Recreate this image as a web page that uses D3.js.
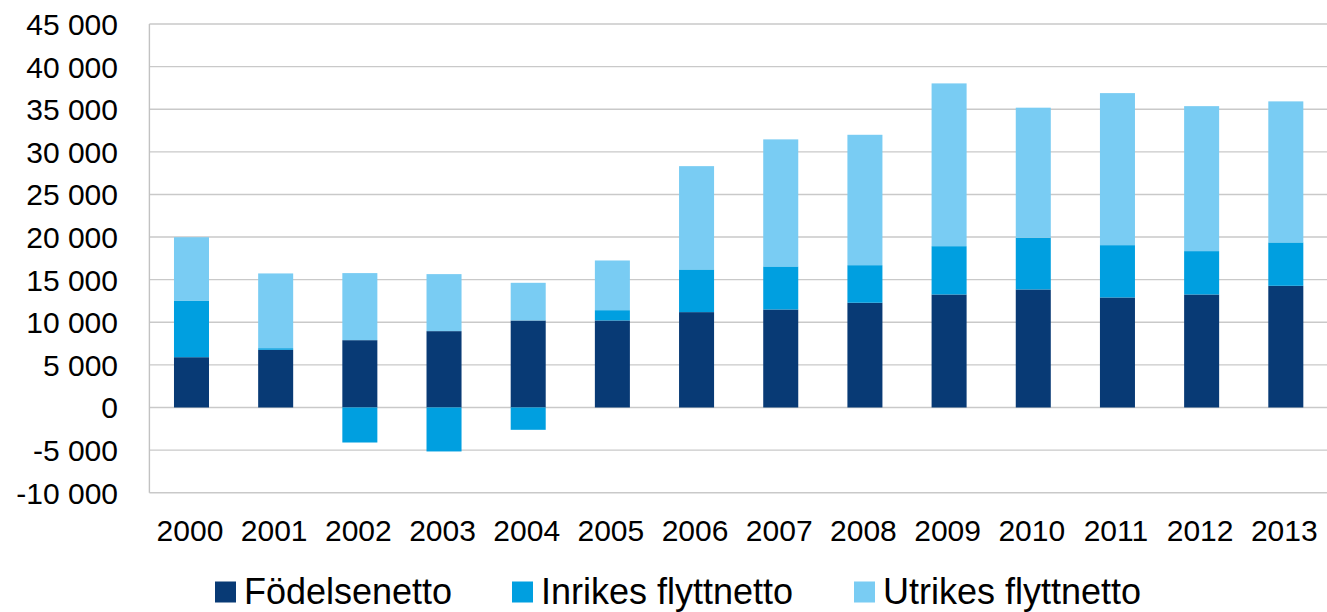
<!DOCTYPE html>
<html>
<head>
<meta charset="utf-8">
<script src="https://cdn.jsdelivr.net/npm/d3@7"></script>
<style>
  html, body { margin: 0; padding: 0; background: #fff; }
  svg { display: block; font-family: "Liberation Sans", Arial, sans-serif; }
</style>
</head>
<body>
<svg id="chart" width="1327" height="612"></svg>
<script>
const years = ["2000","2001","2002","2003","2004","2005","2006","2007","2008","2009","2010","2011","2012","2013"];
const fodelsenetto = [5900, 6770, 7900, 8960, 10210, 10210, 11190, 11500, 12290, 13260, 13850, 12910, 13260, 14280];
const inrikes      = [6650, 190, -4110, -5160, -2620, 1210, 5010, 5050, 4410, 5670, 6070, 6140, 5090, 5090];
const utrikes      = [7430, 8770, 7870, 6690, 4420, 5830, 12120, 14910, 15300, 19100, 15260, 17840, 17010, 16550];
const seriesNames = ["Födelsenetto", "Inrikes flyttnetto", "Utrikes flyttnetto"];
const seriesColors = ["#083A75", "#009FE0", "#79CCF3"];
const yTicks = [-10000, -5000, 0, 5000, 10000, 15000, 20000, 25000, 30000, 35000, 40000, 45000];

(function () {
const svg = d3.select("#chart");
const mLeft = 149.4, mRight = 1327.9, mTop = 24, mBottom = 492.7;

const x = d3.scaleBand().domain(years).range([mLeft, mRight]).paddingInner(0.584).paddingOuter(0.292);
const y = d3.scaleLinear().domain([-10000, 45000]).range([mBottom, mTop]);

const fmt = v => d3.format(",")(v).replace(/,/g, " ").replace("−", "-");

// gridlines
svg.append("g").selectAll("line").data(yTicks).join("line")
  .attr("x1", mLeft).attr("x2", 1327)
  .attr("y1", d => y(d)).attr("y2", d => y(d))
  .attr("stroke", "#c9c9c9").attr("stroke-width", 1.4);

// y axis line
svg.append("line").attr("x1", mLeft).attr("x2", mLeft).attr("y1", mTop).attr("y2", mBottom)
  .attr("stroke", "#c2c2c2").attr("stroke-width", 1.4);

// y tick labels
svg.append("g").selectAll("text").data(yTicks).join("text")
  .attr("x", 118).attr("y", d => y(d) + 11)
  .attr("text-anchor", "end").attr("font-size", 30).attr("fill", "#000")
  .text(d => fmt(d));

// stacked data
const rows = years.map((yr, i) => ({ year: yr, s0: fodelsenetto[i], s1: inrikes[i], s2: utrikes[i] }));
const stacked = d3.stack().keys(["s0", "s1", "s2"]).offset(d3.stackOffsetDiverging)(rows);

svg.append("g").selectAll("g").data(stacked).join("g")
  .attr("fill", (d, i) => seriesColors[i])
  .selectAll("rect").data(d => d).join("rect")
  .attr("x", d => x(d.data.year))
  .attr("width", x.bandwidth())
  .attr("y", d => y(Math.max(d[0], d[1])))
  .attr("height", d => Math.abs(y(d[0]) - y(d[1])));

// x labels
svg.append("g").selectAll("text").data(years).join("text")
  .attr("x", d => x(d) + x.bandwidth() / 2 - 1.5)
  .attr("y", 541)
  .attr("text-anchor", "middle").attr("font-size", 30).attr("fill", "#000")
  .text(d => d);

// legend
const legendX = [215, 512, 854];
const lg = svg.append("g").selectAll("g").data(seriesNames).join("g")
  .attr("transform", (d, i) => `translate(${legendX[i]},0)`);
lg.append("rect").attr("x", 0).attr("y", 581.5).attr("width", 21).attr("height", 21)
  .attr("fill", (d, i) => seriesColors[i]);
lg.append("text").attr("x", 29).attr("y", 603.5).attr("font-size", 36).attr("fill", "#000")
  .text(d => d);
})();
</script>
</body>
</html>
